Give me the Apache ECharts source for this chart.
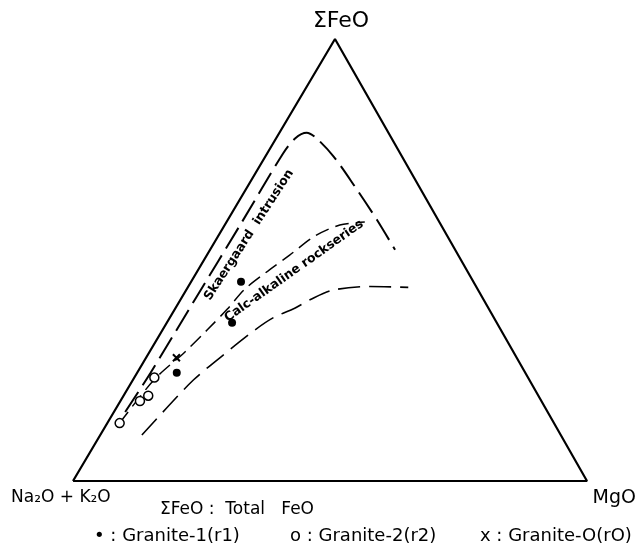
<!DOCTYPE html>
<html>
<head>
<meta charset="utf-8">
<script src="https://cdn.jsdelivr.net/npm/echarts@6/dist/echarts.min.js"></script>
<style>
html,body{margin:0;padding:0;background:#fff;}
#c{width:638px;height:546px;}
</style>
</head>
<body>
<div id="c"></div>
<script>
// Ternary values in percent: [Na2O+K2O, ΣFeO, MgO]
const granite1 = [[67.8, 24.5, 7.7], [51.5, 35.8, 12.7], [45.2, 45.1, 9.7]];
const granite2 = [[84.5, 13.1, 2.4], [78.1, 18.1, 3.8], [75.9, 19.3, 4.8], [72.7, 23.4, 3.9]];
const granite0 = [[66.2, 27.9, 5.9]];
const skaergaard = [[82.2, 15.6, 2.2], [73.0, 24.4, 2.6], [55.5, 41.7, 2.8], [39.0, 58.0, 3.0], [22.8, 74.1, 3.1],
  [18.8, 77.5, 3.7], [15.9, 78.8, 5.3], [14.6, 77.5, 7.9], [13.3, 73.4, 13.3], [12.5, 66.6, 20.9],
  [11.9, 59.1, 29.0], [11.7, 52.3, 36.0]];
const calcAlkaline = [[84.5, 13.1, 2.4], [73.0, 22.9, 4.1], [63.9, 29.2, 6.9], [57.1, 34.2, 8.7], [50.9, 38.9, 10.2],
  [45.3, 43.4, 11.3], [38.8, 47.5, 13.7], [32.8, 51.1, 16.1], [25.8, 55.4, 18.8], [19.7, 57.9, 22.4], [14.5, 58.6, 26.9]];
const lowerTrend = [[81.5, 10.4, 8.1], [73.7, 16.5, 9.8], [65.3, 22.9, 11.8], [56.8, 28.5, 14.7], [47.8, 34.2, 18.0],
  [43.0, 36.9, 20.1], [37.7, 39.1, 23.2], [33.8, 41.0, 25.2], [28.2, 43.2, 28.6], [20.6, 44.0, 35.4], [13.3, 43.8, 42.9]];
const triangle = [[100, 0, 0], [0, 0, 100], [0, 100, 0], [100, 0, 0]];
const vertexLabels = ['ΣFeO', 'Na₂O + K₂O', 'MgO'];
const legendTexts = ['ΣFeO :  Total   FeO', '• : Granite-1(r1)', 'o : Granite-2(r2)', 'x : Granite-O(rO)'];
const curveLabels = ['Skaergaard  intrusion', 'Calc-alkaline rockseries'];

const APEX = 0.5097; // horizontal position of the ΣFeO apex along the base
function toXY(t) {
  const f = t[1] / 100, m = t[2] / 100;
  return [m + f * APEX, f];
}
const conv = arr => arr.map(toXY);

const chart = echarts.init(document.getElementById('c'), null, {renderer: 'canvas'});
const FONT = '"DejaVu Sans", sans-serif';
function txt(x, y, text, size, align, opts) {
  opts = opts || {};
  return {
    type: 'text', x: x, y: y, rotation: opts.rotation || 0, z: 10,
    style: {
      text: text, x: 0, y: 0, fill: '#000',
      fontFamily: FONT, fontSize: size, fontWeight: opts.weight || 'normal',
      align: align, textAlign: align, verticalAlign: 'middle', textVerticalAlign: 'middle'
    }
  };
}

chart.setOption({
  animation: false,
  backgroundColor: '#fff',
  grid: {left: 73, right: 51, top: 39, bottom: 65, containLabel: false},
  xAxis: {type: 'value', min: 0, max: 1, show: false},
  yAxis: {type: 'value', min: 0, max: 1, show: false},
  series: [
    {type: 'line', data: conv(triangle), symbol: 'none', lineStyle: {color: '#000', width: 2.2}, z: 2},
    {type: 'line', data: conv(skaergaard), symbol: 'none', smooth: 0.3,
      lineStyle: {color: '#000', width: 2, type: [24, 8]}},
    {type: 'line', data: conv(calcAlkaline), symbol: 'none', smooth: 0.3,
      lineStyle: {color: '#000', width: 1.5, type: [14, 7]}},
    {type: 'line', data: conv(lowerTrend), symbol: 'none', smooth: 0.3,
      lineStyle: {color: '#000', width: 1.6, type: [22, 9]}},
    {type: 'scatter', data: conv(granite1), symbol: 'circle', symbolSize: 8,
      itemStyle: {color: '#000', opacity: 1}, z: 5},
    {type: 'scatter', data: conv(granite2), symbol: 'circle', symbolSize: 9,
      itemStyle: {color: '#fff', borderColor: '#000', borderWidth: 1.5, opacity: 1}, z: 5},
    {type: 'scatter', data: conv(granite0), symbol: 'path://M0,0L10,10M10,0L0,10', symbolSize: 7,
      itemStyle: {color: 'none', borderColor: '#000', borderWidth: 2, opacity: 1}, z: 5}
  ],
  graphic: [
    txt(341, 21, vertexLabels[0], 22, 'center'),
    txt(11, 498, vertexLabels[1], 17, 'left'),
    txt(636, 498, vertexLabels[2], 19, 'right'),
    txt(160, 510, legendTexts[0], 17, 'left'),
    txt(94, 536, legendTexts[1], 18, 'left'),
    txt(290, 536, legendTexts[2], 18, 'left'),
    txt(480, 536, legendTexts[3], 18, 'left'),
    txt(249, 235, curveLabels[0], 12.5, 'center', {rotation: 57 * Math.PI / 180, weight: 'bold'}),
    txt(294, 271, curveLabels[1], 12.5, 'center', {rotation: 35.3 * Math.PI / 180, weight: 'bold'})
  ]
});
</script>
</body>
</html>
